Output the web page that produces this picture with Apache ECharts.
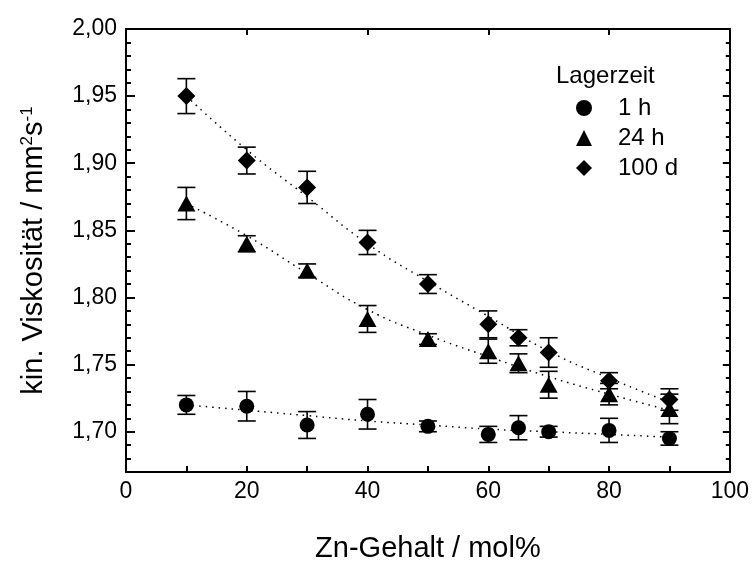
<!DOCTYPE html>
<html>
<head>
<meta charset="utf-8">
<script src="https://cdn.jsdelivr.net/npm/echarts@6/dist/echarts.min.js"></script>
<style>
  html, body { margin: 0; padding: 0; background: #fff; }
  #chart { width: 752px; height: 568px; }
</style>
</head>
<body>
<div id="chart"></div>
<script>
// measured points (Zn content in mol%)
var xZn = [10, 20, 30, 40, 50, 60, 65, 70, 80, 90];
var visc1h   = [1.720, 1.719, 1.705, 1.713, 1.704, 1.698, 1.703, 1.700, 1.701, 1.695];
var err1h    = [0.007, 0.011, 0.010, 0.011, 0.004, 0.006, 0.009, 0.004, 0.009, 0.005];
var visc24h  = [1.870, 1.840, 1.820, 1.784, 1.769, 1.760, 1.751, 1.735, 1.728, 1.717];
var err24h   = [0.012, 0.006, 0.005, 0.010, 0.004, 0.009, 0.007, 0.010, 0.008, 0.011];
var visc100d = [1.950, 1.902, 1.882, 1.841, 1.810, 1.780, 1.770, 1.759, 1.738, 1.724];
var err100d  = [0.013, 0.010, 0.012, 0.009, 0.007, 0.010, 0.006, 0.011, 0.006, 0.008];

// dotted fit curves
var fitX    = [10, 20, 30, 40, 50, 60, 70, 80, 90];
var fit1h   = [1.720, 1.716, 1.712, 1.708, 1.705, 1.702, 1.700, 1.698, 1.696];
var fit24h  = [1.870, 1.846, 1.818, 1.791, 1.772, 1.756, 1.741, 1.728, 1.716];
var fit100d = [1.950, 1.910, 1.875, 1.840, 1.812, 1.786, 1.760, 1.740, 1.722];

var seriesNames = ['1 h', '24 h', '100 d'];
var yMajorTicks = [1.70, 1.75, 1.80, 1.85, 1.90, 1.95, 2.00];

var FONT = 'Liberation Sans, Arial, sans-serif';

function pairs(xs, ys) { return xs.map(function (x, i) { return [x, ys[i]]; }); }
function bars(xs, ys, es) { return xs.map(function (x, i) { return [x, ys[i] - es[i], ys[i] + es[i]]; }); }

function renderErr(params, api) {
  var x = api.value(0);
  var lo = api.coord([x, api.value(1)]);
  var hi = api.coord([x, api.value(2)]);
  var hw = 9;
  var st = { stroke: '#000', lineWidth: 1.6 };
  return {
    type: 'group',
    children: [
      { type: 'line', shape: { x1: lo[0], y1: lo[1], x2: hi[0], y2: hi[1] }, style: st },
      { type: 'line', shape: { x1: hi[0] - hw, y1: hi[1], x2: hi[0] + hw, y2: hi[1] }, style: st },
      { type: 'line', shape: { x1: lo[0] - hw, y1: lo[1], x2: lo[0] + hw, y2: lo[1] }, style: st }
    ]
  };
}

function errSeries(data) {
  return { type: 'custom', renderItem: renderErr, data: data, encode: { x: 0, y: [1, 2] }, z: 3, silent: true };
}
function fitSeries(data) {
  return {
    type: 'line', data: data, smooth: true, symbol: 'none', z: 2, silent: true,
    lineStyle: { color: '#000', width: 1.5, type: [1.5, 5] }
  };
}
function pointSeries(name, data, symbol, size) {
  return {
    name: name, type: 'scatter', data: data, symbol: symbol, symbolSize: size, z: 4,
    itemStyle: { color: '#000', opacity: 1 }
  };
}

var axisLine = { show: true, lineStyle: { color: '#000', width: 2 } };

var chart = echarts.init(document.getElementById('chart'));
chart.setOption({
  animation: false,
  backgroundColor: '#fff',
  title: {
    text: 'Lagerzeit', left: 556, top: 64, padding: 0,
    textStyle: { fontFamily: FONT, fontSize: 24, fontWeight: 'normal', color: '#000' }
  },
  legend: {
    data: seriesNames, orient: 'vertical', left: 576, top: 96, padding: 0,
    itemWidth: 16, itemHeight: 16, itemGap: 6, selectedMode: false,
    textStyle: { fontFamily: FONT, fontSize: 24, color: '#000', padding: [0, 0, 0, 21] }
  },
  grid: { left: 126, right: 22, top: 29, bottom: 87 },
  xAxis: [
    {
      type: 'value', position: 'bottom', min: 0, max: 100, interval: 10,
      name: 'Zn-Gehalt / mol%', nameLocation: 'middle', nameGap: 62,
      nameTextStyle: { fontFamily: FONT, fontSize: 29, color: '#000' },
      axisLine: axisLine, splitLine: { show: false },
      axisTick: { inside: true, length: 6, lineStyle: { color: '#000', width: 2 } },
      axisLabel: {
        margin: 8, fontFamily: FONT, fontSize: 23, color: '#000',
        formatter: function (v) { return v % 20 === 0 ? String(v) : ''; }
      }
    },
    {
      type: 'value', position: 'top', min: 0, max: 100, interval: 20,
      axisLine: axisLine, splitLine: { show: false },
      axisTick: { inside: true, length: 6, lineStyle: { color: '#000', width: 2 } },
      axisLabel: { show: false }
    }
  ],
  yAxis: [
    {
      type: 'value', position: 'left', min: 1.67, max: 2.00, interval: 0.01,
      name: '{a|kin. Viskosität / mm}{b|2}{a|s}{b|-1}', nameLocation: 'middle', nameGap: 78,
      nameTextStyle: {
        fontFamily: FONT, fontSize: 29, color: '#000',
        rich: {
          a: { fontFamily: FONT, fontSize: 29, color: '#000' },
          b: { fontFamily: FONT, fontSize: 17, color: '#000', verticalAlign: 'top', padding: [0, 0, 12, 0] }
        }
      },
      axisLine: axisLine, splitLine: { show: false },
      axisTick: { inside: true, length: 5, lineStyle: { color: '#000', width: 2 } },
      axisLabel: {
        margin: 9, fontFamily: FONT, fontSize: 23, color: '#000',
        formatter: function (v) {
          return Math.round(v * 100) % 5 === 0 ? v.toFixed(2).replace('.', ',') : '';
        }
      }
    },
    {
      type: 'value', position: 'left', offset: 0, min: 1.67, max: 2.00,
      axisLine: { show: false }, splitLine: { show: false }, axisLabel: { show: false },
      axisTick: { inside: true, length: 9, customValues: yMajorTicks, lineStyle: { color: '#000', width: 2 } }
    },
    {
      type: 'value', position: 'right', min: 1.67, max: 2.00, interval: 0.01,
      axisLine: axisLine, splitLine: { show: false }, axisLabel: { show: false },
      axisTick: { inside: true, length: 4, lineStyle: { color: '#000', width: 2 } }
    },
    {
      type: 'value', position: 'right', offset: 0, min: 1.67, max: 2.00,
      axisLine: { show: false }, splitLine: { show: false }, axisLabel: { show: false },
      axisTick: { inside: true, length: 7, customValues: yMajorTicks, lineStyle: { color: '#000', width: 2 } }
    }
  ],
  series: [
    fitSeries(pairs(fitX, fit1h)),
    fitSeries(pairs(fitX, fit24h)),
    fitSeries(pairs(fitX, fit100d)),
    errSeries(bars(xZn, visc1h, err1h)),
    errSeries(bars(xZn, visc24h, err24h)),
    errSeries(bars(xZn, visc100d, err100d)),
    pointSeries('1 h', pairs(xZn, visc1h), 'circle', 15),
    pointSeries('24 h', pairs(xZn, visc24h), 'triangle', [18, 16]),
    pointSeries('100 d', pairs(xZn, visc100d), 'diamond', [18, 18])
  ]
});
</script>
</body>
</html>
